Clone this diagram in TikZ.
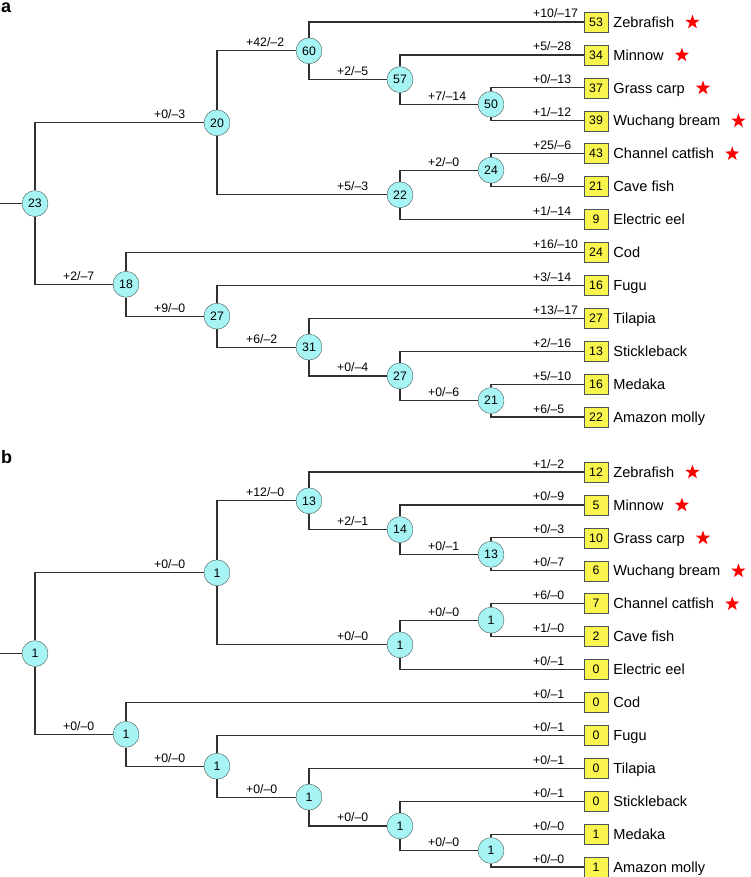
\documentclass[tikz,border=0pt]{standalone}
\usepackage{fontspec}
\setmainfont{Liberation Sans}
\usetikzlibrary{shapes.geometric}
\definecolor{nodecyan}{HTML}{A6F4F4}
\definecolor{leafyellow}{HTML}{FAF54E}
\definecolor{edgegray}{HTML}{303030}
\definecolor{rimgray}{HTML}{4A5656}
\begin{document}
\begin{tikzpicture}[x=1pt,y=-1pt,
  inode/.style={circle,draw=rimgray,fill=nodecyan,minimum size=26pt,inner sep=0pt,font=\fontsize{12.3}{14}\selectfont},
  leaf/.style={rectangle,draw=rimgray,fill=leafyellow,minimum width=24pt,minimum height=20pt,inner sep=0pt,font=\fontsize{12.3}{14}\selectfont},
  brch/.style={draw=edgegray,line width=1.2pt},
  gl/.style={anchor=base west,inner sep=0pt,font=\fontsize{12.3}{14}\selectfont},
  spname/.style={anchor=base west,inner sep=0pt,font=\fontsize{14.6}{17}\selectfont},
  redstar/.style={star,star points=5,star point ratio=2.5,fill=red,minimum size=15pt,inner sep=0pt},
  tag/.style={anchor=base west,inner sep=0pt,font=\fontsize{18}{20}\selectfont\bfseries}]
\useasboundingbox (0,0) rectangle (750,877);

% a: gene numbers
\begin{scope}[name prefix=a-]
\node[tag] (tag) at (1,13) {a};
\foreach \n/\x/\y/\v in {root/35/203.6/23,oto/217/122.8/20,cyp/309/50.8/60,min/400/79.6/57,
  carp/491/104.3/50,char/400/194.8/22,cat/491/170.2/24,acan/126/284.3/18,perc/217/316.2/27,
  til/309/347.1/31,smeg/400/375.9/27,ath/491/400.5/21}
  \node[inode] (\n) at (\x,\y) {\v};
\foreach \n/\i/\v/\sp in {zf/0/53/Zebrafish,mn/1/34/Minnow,gc/2/37/Grass carp,wb/3/39/Wuchang bream,
  cc/4/43/Channel catfish,cf/5/21/Cave fish,ee/6/9/Electric eel,cod/7/24/Cod,fugu/8/16/Fugu,
  tila/9/27/Tilapia,stk/10/13/Stickleback,med/11/16/Medaka,am/12/22/Amazon molly}{
  \node[leaf] (\n) at (596,22+32.92*\i) {\v};
  \node[spname] (\n-sp) at ([xshift=5pt,yshift=-5.2pt]\n.east) {\sp};
}
\foreach \n in {zf,mn,gc,wb,cc}
  \node[redstar] (\n-st) at ([xshift=18pt,yshift=5pt]\n-sp.base east) {};
\coordinate (stub) at (0,203.6);
\draw[brch] (stub) -- (root);
\foreach \p/\c/\g/\l in {root/oto/0/3,root/acan/2/7,oto/cyp/42/2,oto/char/5/3,cyp/zf/10/17,
  cyp/min/2/5,min/mn/5/28,min/carp/7/14,carp/gc/0/13,carp/wb/1/12,char/cat/2/0,char/ee/1/14,
  cat/cc/25/6,cat/cf/6/9,acan/cod/16/10,acan/perc/9/0,perc/fugu/3/14,perc/til/6/2,
  til/tila/13/17,til/smeg/0/4,smeg/stk/2/16,smeg/ath/0/6,ath/med/5/10,ath/am/6/5}{
  \draw[brch] (\p) |- (\c);
  \node[gl] (\c-gl) at ([xshift=-63pt,yshift=4pt]\c.center) {+\g/–\l};
}
\end{scope}

% b: expanded families
\begin{scope}[shift={(0,450)},name prefix=b-]
\node[tag] (tag) at (1,13) {b};
\foreach \n/\x/\y/\v in {root/35/203.6/1,oto/217/122.8/1,cyp/309/50.8/13,min/400/79.6/14,
  carp/491/104.3/13,char/400/194.8/1,cat/491/170.2/1,acan/126/284.3/1,perc/217/316.2/1,
  til/309/347.1/1,smeg/400/375.9/1,ath/491/400.5/1}
  \node[inode] (\n) at (\x,\y) {\v};
\foreach \n/\i/\v/\sp in {zf/0/12/Zebrafish,mn/1/5/Minnow,gc/2/10/Grass carp,wb/3/6/Wuchang bream,
  cc/4/7/Channel catfish,cf/5/2/Cave fish,ee/6/0/Electric eel,cod/7/0/Cod,fugu/8/0/Fugu,
  tila/9/0/Tilapia,stk/10/0/Stickleback,med/11/1/Medaka,am/12/1/Amazon molly}{
  \node[leaf] (\n) at (596,22+32.92*\i) {\v};
  \node[spname] (\n-sp) at ([xshift=5pt,yshift=-5.2pt]\n.east) {\sp};
}
\foreach \n in {zf,mn,gc,wb,cc}
  \node[redstar] (\n-st) at ([xshift=18pt,yshift=5pt]\n-sp.base east) {};
\coordinate (stub) at (0,203.6);
\draw[brch] (stub) -- (root);
\foreach \p/\c/\g/\l in {root/oto/0/0,root/acan/0/0,oto/cyp/12/0,oto/char/0/0,cyp/zf/1/2,
  cyp/min/2/1,min/mn/0/9,min/carp/0/1,carp/gc/0/3,carp/wb/0/7,char/cat/0/0,char/ee/0/1,
  cat/cc/6/0,cat/cf/1/0,acan/cod/0/1,acan/perc/0/0,perc/fugu/0/1,perc/til/0/0,
  til/tila/0/1,til/smeg/0/0,smeg/stk/0/1,smeg/ath/0/0,ath/med/0/0,ath/am/0/0}{
  \draw[brch] (\p) |- (\c);
  \node[gl] (\c-gl) at ([xshift=-63pt,yshift=4pt]\c.center) {+\g/–\l};
}
\end{scope}
\end{tikzpicture}
\end{document}
